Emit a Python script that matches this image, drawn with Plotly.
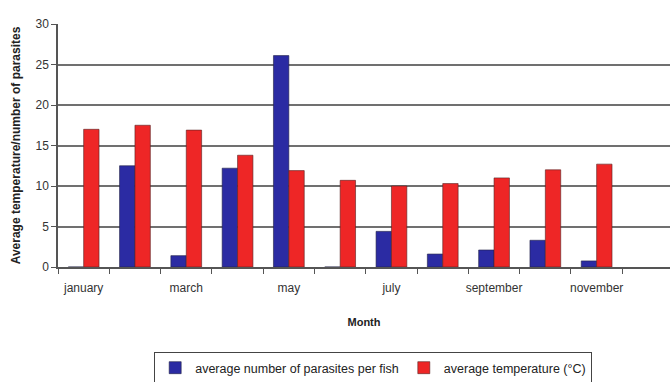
import plotly.graph_objects as go

months = ["january", "february", "march", "april", "may", "june",
          "july", "august", "september", "october", "november", "december"]
parasites = [0, 12.5, 1.4, 12.2, 26.1, 0, 4.4, 1.6, 2.1, 3.3, 0.75, None]
temperature = [17.0, 17.5, 16.9, 13.8, 11.9, 10.7, 10.0, 10.3, 11.0, 12.0, 12.7, None]
label_months = ["january", "march", "may", "july", "september", "november"]

xidx = list(range(len(months)))
label_idx = [months.index(m) for m in label_months]

fig = go.Figure()
fig.add_trace(go.Bar(x=xidx, y=parasites, name="average number of parasites per fish",
                     marker=dict(color="#2b2ba3", line=dict(color="#222244", width=0.6))))
fig.add_trace(go.Bar(x=xidx, y=temperature, name="average temperature (°C)",
                     marker=dict(color="#ee2626", line=dict(color="#552222", width=0.6))))

fig.update_layout(
    width=670, height=382,
    margin=dict(l=58, r=0, t=24, b=115, autoexpand=False),
    paper_bgcolor="white", plot_bgcolor="white",
    barmode="group", bargap=0.4, bargroupgap=0,
    font=dict(family="Liberation Sans, Arial, sans-serif", size=11, color="#333333"),
    showlegend=True,
    legend=dict(orientation="h", x=0.515, xanchor="center", y=-0.35, yanchor="top",
                bordercolor="#444444", borderwidth=1,
                font=dict(size=12.5, color="#222222"),
                itemwidth=30, tracegroupgap=0),
    xaxis=dict(
        range=[-0.5, 11.43], automargin=False,
        tickmode="array", tickvals=label_idx, ticktext=label_months,
        ticks="", ticklen=0, ticklabelstandoff=9,
        showline=True, linecolor="#555555", linewidth=1.5,
        showgrid=False, zeroline=False,
        tickfont=dict(size=12, color="#333333"),
        minor=dict(tickmode="array", tickvals=[i - 0.5 for i in range(len(months) + 1)],
                   ticks="outside", ticklen=5, tickcolor="#555555", tickwidth=1, showgrid=False),
        title=dict(text="<b>Month</b>", font=dict(size=11, color="#222222"), standoff=24),
    ),
    yaxis=dict(
        range=[0, 30], dtick=5, automargin=False,
        ticks="outside", ticklen=5, tickcolor="#555555",
        showline=True, linecolor="#555555", linewidth=1.5,
        showgrid=True, gridcolor="#707070", gridwidth=1.5,
        zeroline=False,
        tickfont=dict(size=12, color="#333333"),
        title=dict(text="<b>Average temperature/number of parasites</b>",
                   font=dict(size=12, color="#222222"), standoff=12),
    ),
)

post = ("document.body.style.margin='0';document.body.style.overflow='hidden';"
        "var gd=document.getElementById('{plot_id}');Plotly.Plots.resize(gd);")
fig.write_html("out.html", post_script=post, config={"displayModeBar": False})
